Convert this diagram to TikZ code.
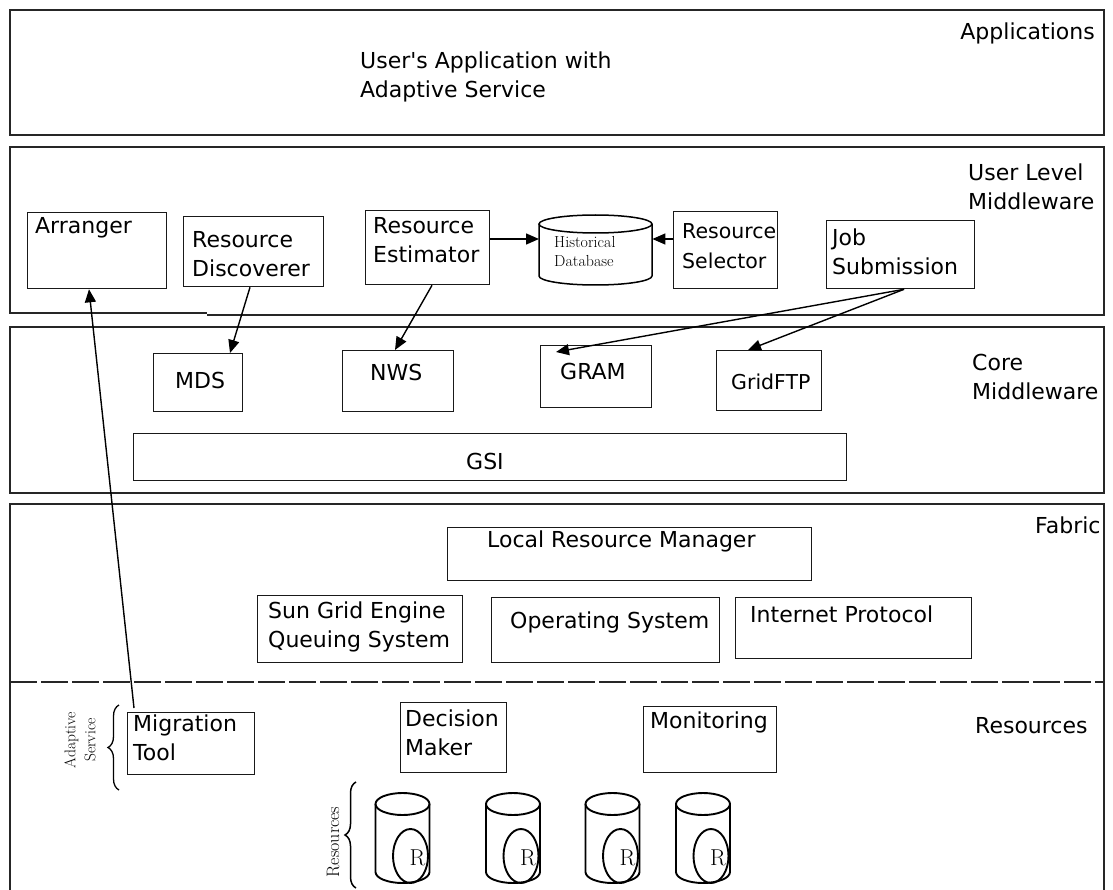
\documentclass[tikz,border=0pt]{standalone}
\usepackage{fontspec}
\newfontfamily\dvs{DejaVu Sans}
\usetikzlibrary{arrows.meta,decorations.pathreplacing,calc}
\begin{document}
\begin{tikzpicture}[x=1pt,y=-1pt,
 layer/.style={draw=black!85, line width=1.6pt},
 box/.style={draw=black!90, line width=1.3pt, anchor=north west, inner sep=0},
 txt/.style={font=\dvs\fontsize{22}{29}\selectfont, align=left, inner sep=0, anchor=west},
 conn/.style={line width=1.4pt, -{Triangle[length=13pt,width=11pt]}},
 cyl/.style={line width=1.9pt},
 ser/.style={font=\fontsize{16}{19}\selectfont, inner sep=0}]
\useasboundingbox (0,0) rectangle (1113,890);
\fill[white] (0,0) rectangle (1113,890);
% layers
\draw[layer] (10,10) rectangle (1104,135);
\draw[layer] (207,315) -- (1104,315) -- (1104,147) -- (10,147) -- (10,313) -- (207,313);
\draw[layer] (10,327) rectangle (1104,493);
\draw[layer] (10,682) -- (10,504) -- (1104,504) -- (1104,682);
\draw[layer, dash pattern=on 27pt off 4pt] (10,682) -- (1104,682);
\draw[layer] (10,682) -- (10,890);
\draw[layer] (1104,682) -- (1104,890);
% layer labels
\node[txt, anchor=east] (lApp) at (1095,33) {Applications};
\node[txt] (lUApp) at (360,77) {User's Application with\\Adaptive Service};
\node[txt] (lUser) at (968,187) {User Level\\Middleware};
\node[txt] (lCore) at (972,377) {Core\\Middleware};
\node[txt] (lFab) at (1035,525) {Fabric};
\node[txt] (lRes) at (975,726) {Resources};
% user level boxes
\node[box, minimum width=139pt, minimum height=76pt] (arr) at (27,212) {};
\node[box, minimum width=140pt, minimum height=70pt] (rdisc) at (183,216) {};
\node[box, minimum width=124pt, minimum height=74pt] (rest) at (365,210) {};
\node[box, minimum width=104pt, minimum height=77pt] (rsel) at (673,211) {};
\node[box, minimum width=148pt, minimum height=68pt] (job) at (826,220) {};
\node[txt] (tArr) at (35,228) {Arranger};
\node[txt] (tRd) at (192,254) {Resource\\Discoverer};
\node[txt] (tRe) at (373,240) {Resource\\Estimator};
\node[txt, font=\dvs\fontsize{20.5}{30}\selectfont] (tRs) at (682,246) {Resource\\Selector};
\node[txt] (tJob) at (832,252) {Job\\Submission};
% historical database
\node[minimum width=113pt, minimum height=70pt, inner sep=0, anchor=north west] (hdb) at (539,215) {};
\draw[line width=1.5pt] (595.5,224) ellipse [x radius=56.5, y radius=9];
\draw[line width=1.5pt] (539,224) -- (539,276) arc[start angle=180, end angle=0, x radius=56.5, y radius=9] -- (652,224);
\node[ser, align=left, anchor=west] (tHdb) at (554,252) {Historical\\Database};
% core boxes
\node[box, minimum width=89pt, minimum height=58pt] (mds) at (153,353) {};
\node[box, minimum width=111pt, minimum height=61pt] (nws) at (342,350) {};
\node[box, minimum width=111pt, minimum height=62pt] (gram) at (540,345) {};
\node[box, minimum width=105pt, minimum height=60pt] (gftp) at (716,350) {};
\node[box, minimum width=713pt, minimum height=47pt] (gsi) at (133,433) {};
\node[txt] (tMds) at (175,380) {MDS};
\node[txt] (tNws) at (370,372) {NWS};
\node[txt] (tGram) at (560,371) {GRAM};
\node[txt, font=\dvs\fontsize{20.5}{29}\selectfont] (tGftp) at (731,382) {GridFTP};
\node[txt] (tGsi) at (466,461) {GSI};
% fabric boxes
\node[box, minimum width=364pt, minimum height=53pt] (lrm) at (447,527) {};
\node[box, minimum width=205pt, minimum height=67pt] (sge) at (257,595) {};
\node[box, minimum width=228pt, minimum height=65pt] (os) at (491,597) {};
\node[box, minimum width=236pt, minimum height=61pt] (ip) at (735,597) {};
\node[txt] (tLrm) at (487,541) {Local Resource Manager};
\node[txt] (tSge) at (268,627) {Sun Grid Engine\\Queuing System};
\node[txt] (tOs) at (510,622) {Operating System};
\node[txt] (tIp) at (750,614) {Internet Protocol};
% resources boxes
\node[box, minimum width=127pt, minimum height=62pt] (mig) at (127,712) {};
\node[box, minimum width=106pt, minimum height=70pt] (dec) at (400,702) {};
\node[box, minimum width=133pt, minimum height=66pt] (mon) at (643,706) {};
\node[txt] (tMig) at (133,738) {Migration\\Tool};
\node[txt] (tDec) at (405,733) {Decision\\Maker};
\node[txt] (tMon) at (650,722) {Monitoring};
% braces and rotated labels
\draw[line width=1.3pt, decorate, decoration={brace, amplitude=11pt}] (119,790) -- (119,705);
\node[ser, font=\fontsize{15.5}{20}\selectfont, align=center, rotate=90] (tAS) at (80,740) {Adaptive\\Service};
\draw[line width=1.5pt, decorate, decoration={brace, amplitude=11pt}] (356,888) -- (356,782);
\node[ser, font=\fontsize{18}{19}\selectfont, rotate=90] (tRsc) at (333,842) {Resources};
% resource cylinders
\foreach \cx/\n in {402.5/1,513/2,612.5/3,703/4}{
  \draw[cyl] (\cx,804) ellipse [x radius=27, y radius=11];
  \draw[cyl] (\cx-27,804) -- (\cx-27,872) arc[start angle=180, end angle=0, x radius=27, y radius=11] -- (\cx+27,804);
  \draw[cyl] (\cx+8,856) ellipse [x radius=17.5, y radius=27];
  \node[ser, font=\fontsize{23}{23}\selectfont] (r\n) at (\cx+15,858) {R};
}
% connectors
\draw[conn] ($(rdisc.south west)+(67,0)$) -- ($(mds.north west)+(77,0)$);
\draw[conn] ($(rest.south west)+(67,0)$) -- ($(nws.north west)+(53,0)$);
\draw[conn] ($(job.south west)+(78,0)$) -- ($(gram.north west)+(16,7)$);
\draw[conn] ($(job.south west)+(78,0)$) -- ($(gftp.north west)+(32,0)$);
\draw[conn] ($(mig.north west)+(7,-4)$) -- ($(arr.south west)+(62,0)$);
\draw[conn] ($(rest.north east)+(0,29)$) -- ($(hdb.north west)+(0,24)$);
\draw[conn] ($(rsel.north west)+(0,28)$) -- ($(hdb.north east)+(0,24)$);
\end{tikzpicture}
\end{document}
